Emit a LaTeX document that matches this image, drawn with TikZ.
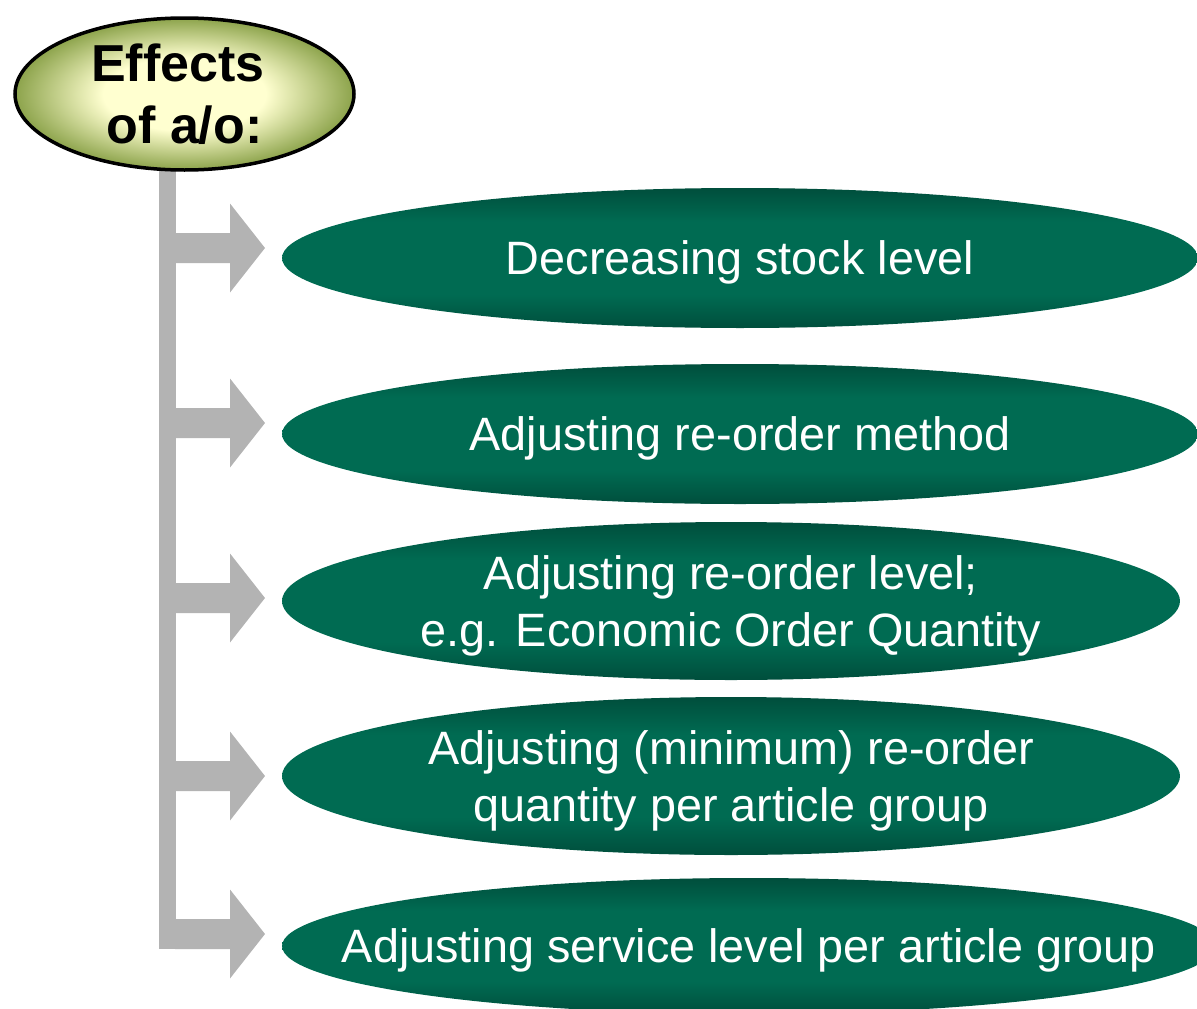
\documentclass[tikz,border=0pt]{standalone}
\usepackage{fontspec}
\setmainfont{Liberation Sans}
\usetikzlibrary{shapes.geometric,backgrounds,calc}
\definecolor{barcol}{RGB}{179,179,179}
\definecolor{tY}{RGB}{255,255,208}
\definecolor{tG}{RGB}{140,163,75}
\definecolor{gD}{RGB}{0,78,60}
\definecolor{gM}{RGB}{0,107,82}
\pgfdeclareradialshading{titleshade}{\pgfpoint{0bp}{0bp}}{color(0bp)=(tY); color(12bp)=(tY); color(25bp)=(tG); color(50bp)=(tG)}
\pgfdeclareverticalshading{gshade}{100bp}{color(0bp)=(gD); color(25bp)=(gD); color(37bp)=(gM); color(63bp)=(gM); color(75bp)=(gD); color(100bp)=(gD)}
\tikzset{
  titlebox/.style={ellipse, draw=black, line width=3.5pt, shading=titleshade,
    minimum width=339pt, minimum height=152pt, inner sep=0pt, align=center,
    font=\fontsize{52}{62}\selectfont\bfseries, text=black},
  effect/.style={ellipse, shading=gshade, inner sep=0pt, align=center,
    font=\fontsize{46.8}{57.5}\selectfont, text=white, text depth=0pt},
  bar/.style={draw=barcol, line width=17pt, line cap=butt},
  arrowfill/.style={fill=barcol},
}
\newcommand\sidearrow[1]{\fill[arrowfill] (#1) ++(-90,-15) -- ++(55,0) -- ++(0,-29.5) -- ++(35,44.5) -- ++(-35,44.5) -- ++(0,-29.5) -- ++(-55,0) -- cycle;}
\begin{document}
\begin{tikzpicture}[x=1pt,y=1pt]
\useasboundingbox (0,0) rectangle (1197,-1009);
\node[titlebox] (title) at (184.5,-94) {Effects\kern13pt\\of a/o:};
\node[effect, minimum width=916pt, minimum height=140pt] (e1) at (740,-258) {Decreasing stock level};
\node[effect, minimum width=916pt, minimum height=140pt] (e2) at (740,-434) {Adjusting re-order method};
\node[effect, minimum width=898pt, minimum height=158pt] (e3) at (731,-601) {Adjusting re-order level;\\e.g. Economic Order Quantity};
\node[effect, minimum width=898pt, minimum height=158pt] (e4) at (731,-776) {Adjusting (minimum) re-order\\quantity per article group};
\node[effect, minimum width=934pt, minimum height=136pt, inner xsep=-110pt] (e5) at (749,-946) {Adjusting service level per article group};
\coordinate (a1) at (265,-248);
\coordinate (a2) at (265,-423);
\coordinate (a3) at (265,-598);
\coordinate (a4) at (265,-776);
\coordinate (a5) at (265,-934);
\coordinate (barbot) at (167.5,-949);
\begin{scope}[on background layer]
  \draw[bar] (title.south -| barbot) ++(0,10) -- (barbot);
  \sidearrow{a1}
  \sidearrow{a2}
  \sidearrow{a3}
  \sidearrow{a4}
  \sidearrow{a5}
\end{scope}
\end{tikzpicture}
\end{document}
